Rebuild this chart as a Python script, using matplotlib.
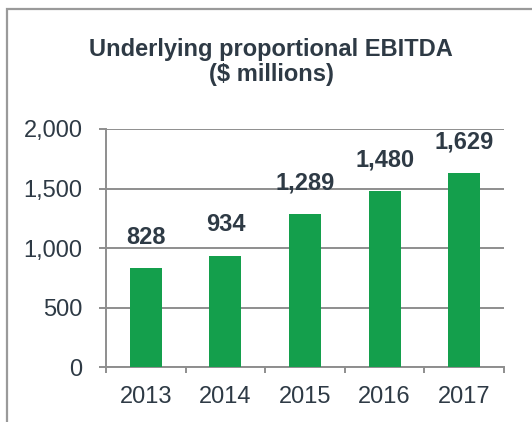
import matplotlib
matplotlib.use("Agg")
import matplotlib.pyplot as plt
import matplotlib.patches as mpatches
from matplotlib.ticker import FuncFormatter, FixedLocator

# ── Data ───────────────────────────────────────────────────────────────────────
years = ['2013', '2014', '2015', '2016', '2017']
ebitda = [828, 934, 1289, 1480, 1629]

# ── Style ──────────────────────────────────────────────────────────────────────
plt.rcParams['font.family'] = ['Liberation Sans', 'DejaVu Sans']
text_color = '#2e3a45'
grid_color = '#8e8e8e'
bar_color = '#149f4c'

W, H = 532, 422
fig = plt.figure(figsize=(W / 100, H / 100), dpi=100)
fig.patch.set_facecolor('white')

# outer frame (clipped at right/bottom like the source)
frame = mpatches.Rectangle((7 / W, -0.05), 1.2, (H - 9) / H + 0.05,
                           transform=fig.transFigure, fill=False,
                           edgecolor='#9a9a9a', linewidth=1.6)
fig.patches.append(frame)

ax = fig.add_axes([106 / W, 1 - 367 / H, (504 - 106) / W, (367 - 129) / H])

x = list(range(len(years)))
ax.bar(x, ebitda, width=0.4, color=bar_color, zorder=3)

for xi, v in zip(x, ebitda):
    ax.annotate(f'{v:,}', (xi, v), xytext=(0, 14), textcoords='offset points',
                ha='center', va='bottom', fontsize=17, fontweight='bold',
                color=text_color)

ax.set_xlim(-0.5, len(years) - 0.5)
ax.set_ylim(0, 2000)
ax.set_yticks([0, 500, 1000, 1500, 2000])
ax.yaxis.set_major_formatter(FuncFormatter(lambda v, p: f'{int(v):,}'))
ax.grid(axis='y', color=grid_color, linewidth=1.4, zorder=0)

ax.set_xticks(x)
ax.set_xticklabels(years)
ax.xaxis.set_minor_locator(FixedLocator([i - 0.5 for i in range(len(years) + 1)]))
ax.tick_params(axis='x', which='major', length=0, pad=14, labelsize=17,
               labelcolor=text_color)
ax.tick_params(axis='x', which='minor', length=4, width=1.4, color=grid_color)
ax.tick_params(axis='y', length=5, width=1.4, color=grid_color, pad=12,
               labelsize=17, labelcolor=text_color)

for side in ['top', 'right']:
    ax.spines[side].set_visible(False)
for side in ['left', 'bottom']:
    ax.spines[side].set_color(grid_color)
    ax.spines[side].set_linewidth(1.4)

fig.text(271 / W, 1 - 62 / H, 'Underlying proportional EBITDA\n($ millions)',
         ha='center', va='center', fontsize=17, fontweight='bold',
         color=text_color, linespacing=1.15)

fig.savefig('out.png', dpi=100)
